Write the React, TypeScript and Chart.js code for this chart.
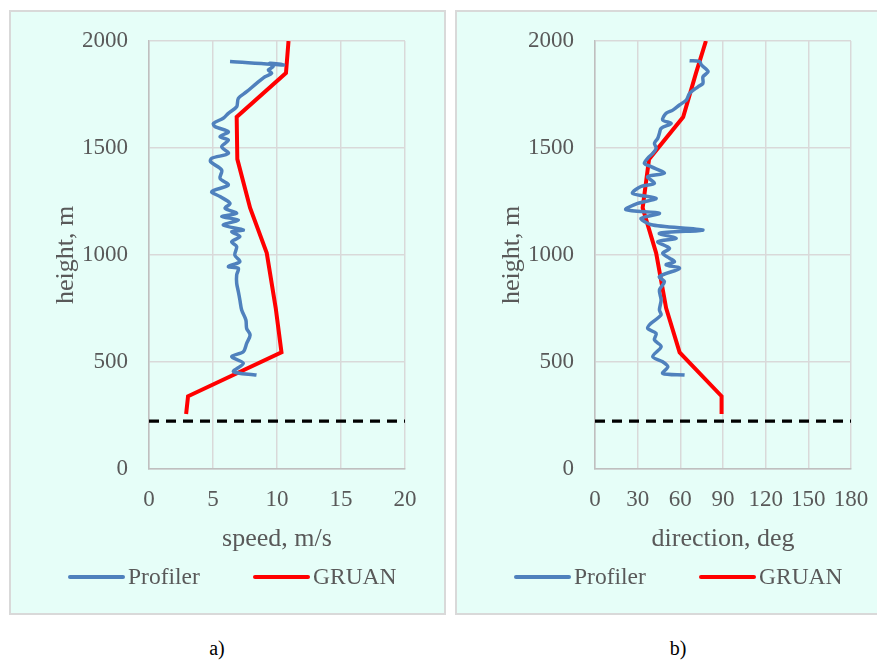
import React, { useEffect, useRef } from "react";
import { Chart, registerables } from "chart.js";

Chart.register(...registerables);

// ---------- data ----------
const speedProfilerHeight = [439, 455, 494, 525, 548, 587, 626, 657, 696, 743, 790, 829, 868, 907, 938, 946, 969, 1000, 1039, 1062, 1086, 1109, 1117, 1140, 1164, 1179, 1195, 1218, 1241, 1273, 1296, 1327, 1358, 1397, 1436, 1452, 1475, 1506, 1537, 1553, 1576, 1600, 1615, 1639, 1662, 1693, 1732, 1763, 1802, 1833, 1849, 1865, 1880, 1896, 1888, 1904];
const speedProfilerValue = [8.4, 6.6, 7.37, 6.46, 7.37, 7.63, 7.9, 7.63, 7.57, 7.24, 7.1, 6.98, 6.85, 6.85, 6.98, 6.2, 7.1, 6.7, 6.85, 6.46, 7.1, 6.46, 7.37, 5.8, 6.98, 5.68, 6.85, 5.94, 6.33, 5.55, 4.9, 6.2, 5.55, 5.68, 4.8, 4.9, 6.2, 5.68, 6.2, 5.55, 6.2, 5.16, 5.03, 5.8, 6.2, 6.85, 6.98, 7.63, 8.4, 9.06, 9.58, 9.32, 9.7, 9.45, 10.5, 6.33];

const dirProfilerHeight = [439, 447, 478, 501, 525, 572, 603, 634, 657, 681, 720, 743, 790, 836, 875, 899, 938, 954, 969, 985, 1008, 1031, 1062, 1078, 1101, 1117, 1140, 1171, 1195, 1212, 1241, 1265, 1288, 1320, 1335, 1366, 1382, 1413, 1428, 1452, 1475, 1499, 1522, 1545, 1569, 1592, 1615, 1631, 1662, 1677, 1701, 1724, 1755, 1786, 1802, 1833, 1857, 1888, 1904, 1908];
const dirProfilerValue = [63, 47.6, 51.2, 47.6, 40.6, 46.5, 41.8, 43, 37, 39.4, 46.5, 45.3, 46.5, 45.3, 48.8, 45.3, 59.4, 50, 55.9, 52.4, 47.6, 52.4, 44.1, 57.1, 45.3, 75.9, 40.6, 32.3, 45.3, 21.7, 30, 43, 26.4, 32.3, 41.8, 37, 48.8, 39.4, 34.7, 37, 40.6, 43, 41.8, 44.1, 45.3, 46.5, 53.6, 47.6, 50, 54.7, 59.4, 64.2, 66.5, 72.4, 75.9, 75.9, 79.5, 74.8, 73.6, 66.5];

const gruanHeight = [257, 340, 545, 752, 1009, 1220, 1448, 1645, 1850, 2000];
const gruanSpeed = [2.9, 3.05, 10.35, 9.9, 9.2, 7.9, 6.9, 6.85, 10.7, 10.9];
const gruanDirection = [89, 89, 59.5, 50, 43, 33.5, 38, 62, 71, 78];

const surfaceHeight = 224;

const speedTicks = { min: 0, max: 20, step: 5 };
const directionTicks = { min: 0, max: 180, step: 30 };
const heightTicks = { min: 0, max: 2000, step: 500 };

const seriesNames = ["Profiler", "GRUAN"];
const panelLabels = ["a)", "b)"];

// ---------- styling ----------
const FONT = "'Liberation Serif', 'Times New Roman', serif";
const TEXT = "#595959";
const GRID = "#d9d9d9";
const AXIS = "#bfbfbf";
const BLUE = "#4f81bd";
const RED = "#ff0000";
const BG = "#e6fef8";

function toPoints(xs: number[], ys: number[]) {
  return xs.map((x, i) => ({ x, y: ys[i] }));
}

// legend drawn on the canvas, from the chart's own datasets
const legendPlugin = {
  id: "bottomLegend",
  afterDraw(chart: any) {
    const ctx = chart.ctx;
    const y = 565;
    const slots = [
      { lx: 59, tx: 117 },
      { lx: 244, tx: 302 },
    ];
    ctx.save();
    ctx.font = `23.5px ${FONT}`;
    ctx.textBaseline = "middle";
    ctx.textAlign = "left";
    chart.data.datasets.slice(0, 2).forEach((d: any, i: number) => {
      const s = slots[i];
      ctx.strokeStyle = d.borderColor;
      ctx.lineWidth = 4;
      ctx.lineCap = "round";
      ctx.beginPath();
      ctx.moveTo(s.lx, y);
      ctx.lineTo(s.lx + 53, y);
      ctx.stroke();
      ctx.fillStyle = TEXT;
      ctx.fillText(d.label, s.tx, y + 1);
    });
    ctx.restore();
  },
};

type PanelProps = {
  left: number;
  width: number;
  profX: number[];
  profY: number[];
  gruanX: number[];
  xTicks: { min: number; max: number; step: number };
  xTitle: string;
  rightPad: number;
  showRightBorder: boolean;
};

function ChartPanel(p: PanelProps) {
  const ref = useRef<HTMLCanvasElement | null>(null);
  useEffect(() => {
    if (!ref.current) return;
    const chart = new Chart(ref.current, {
      type: "scatter",
      data: {
        datasets: [
          {
            label: seriesNames[0],
            data: toPoints(p.profX, p.profY),
            showLine: true,
            borderColor: BLUE,
            backgroundColor: BLUE,
            borderWidth: 3.5,
            pointRadius: 0,
            tension: 0.3,
          },
          {
            label: seriesNames[1],
            data: toPoints(p.gruanX, gruanHeight),
            showLine: true,
            borderColor: RED,
            backgroundColor: RED,
            borderWidth: 4,
            pointRadius: 0,
            tension: 0,
          },
          {
            label: "surface",
            data: [
              { x: p.xTicks.min, y: surfaceHeight },
              { x: p.xTicks.max, y: surfaceHeight },
            ],
            showLine: true,
            borderColor: "#000000",
            borderWidth: 3.2,
            borderDash: [10, 7],
            pointRadius: 0,
          },
        ],
      },
      options: {
        animation: false,
        responsive: false,
        maintainAspectRatio: false,
        layout: { padding: { left: 40, top: 29, right: p.rightPad, bottom: 58 } },
        plugins: {
          tooltip: { enabled: false },
          legend: { display: false },
        },
        scales: {
          x: {
            type: "linear",
            min: p.xTicks.min,
            max: p.xTicks.max,
            ticks: {
              stepSize: p.xTicks.step,
              font: { family: FONT, size: 23 },
              color: TEXT,
              padding: 0,
              callback: (v: any) => String(v),
            },
            grid: { color: GRID, lineWidth: 1.5, drawTicks: true, tickLength: 17, tickColor: "rgba(0,0,0,0)" },
            border: { color: AXIS, width: 1.5 },
            title: {
              display: true,
              text: p.xTitle,
              font: { family: FONT, size: 26 },
              color: TEXT,
              padding: { top: 0, bottom: 0 },
            },
            afterFit: (s: any) => {
              s.height = 86;
            },
          },
          y: {
            type: "linear",
            min: heightTicks.min,
            max: heightTicks.max,
            ticks: {
              stepSize: heightTicks.step,
              font: { family: FONT, size: 23 },
              color: TEXT,
              padding: 0,
              callback: (v: any) => String(v),
            },
            grid: { color: GRID, lineWidth: 1.5, drawTicks: true, tickLength: 21, tickColor: "rgba(0,0,0,0)" },
            border: { color: AXIS, width: 1.5 },
            title: {
              display: true,
              text: "height, m",
              font: { family: FONT, size: 26 },
              color: TEXT,
              padding: { top: 0, bottom: 0 },
            },
            afterFit: (s: any) => {
              s.width = 98;
            },
          },
        },
      },
      plugins: [legendPlugin],
    });
    return () => chart.destroy();
  }, []);
  const innerW = p.width - (p.showRightBorder ? 4 : 2);
  return (
    <div
      style={{
        position: "absolute",
        left: p.left,
        top: 10,
        width: p.width,
        height: 605,
        boxSizing: "border-box",
        border: `2px solid ${GRID}`,
        borderRight: p.showRightBorder ? `2px solid ${GRID}` : "none",
        background: BG,
      }}
    >
      <canvas ref={ref} width={innerW} height={601} style={{ display: "block", width: innerW, height: 601 }} />
    </div>
  );
}

export default function App() {
  return (
    <div style={{ position: "absolute", left: 0, top: 0, width: 877, height: 661, background: "#ffffff", overflow: "hidden" }}>
      <ChartPanel
        left={9}
        width={437}
        profX={speedProfilerValue}
        profY={speedProfilerHeight}
        gruanX={gruanSpeed}
        xTicks={speedTicks}
        xTitle="speed, m/s"
        rightPad={39}
        showRightBorder={true}
      />
      <ChartPanel
        left={455}
        width={422}
        profX={dirProfilerValue}
        profY={dirProfilerHeight}
        gruanX={gruanDirection}
        xTicks={directionTicks}
        xTitle="direction, deg"
        rightPad={26}
        showRightBorder={false}
      />
      {panelLabels.map((t, i) => (
        <div
          key={t}
          style={{
            position: "absolute",
            left: i === 0 ? 217 : 678,
            top: 636,
            transform: "translateX(-50%)",
            fontFamily: FONT,
            fontSize: 20,
            color: "#000",
            lineHeight: "24px",
          }}
        >
          {t}
        </div>
      ))}
    </div>
  );
}
